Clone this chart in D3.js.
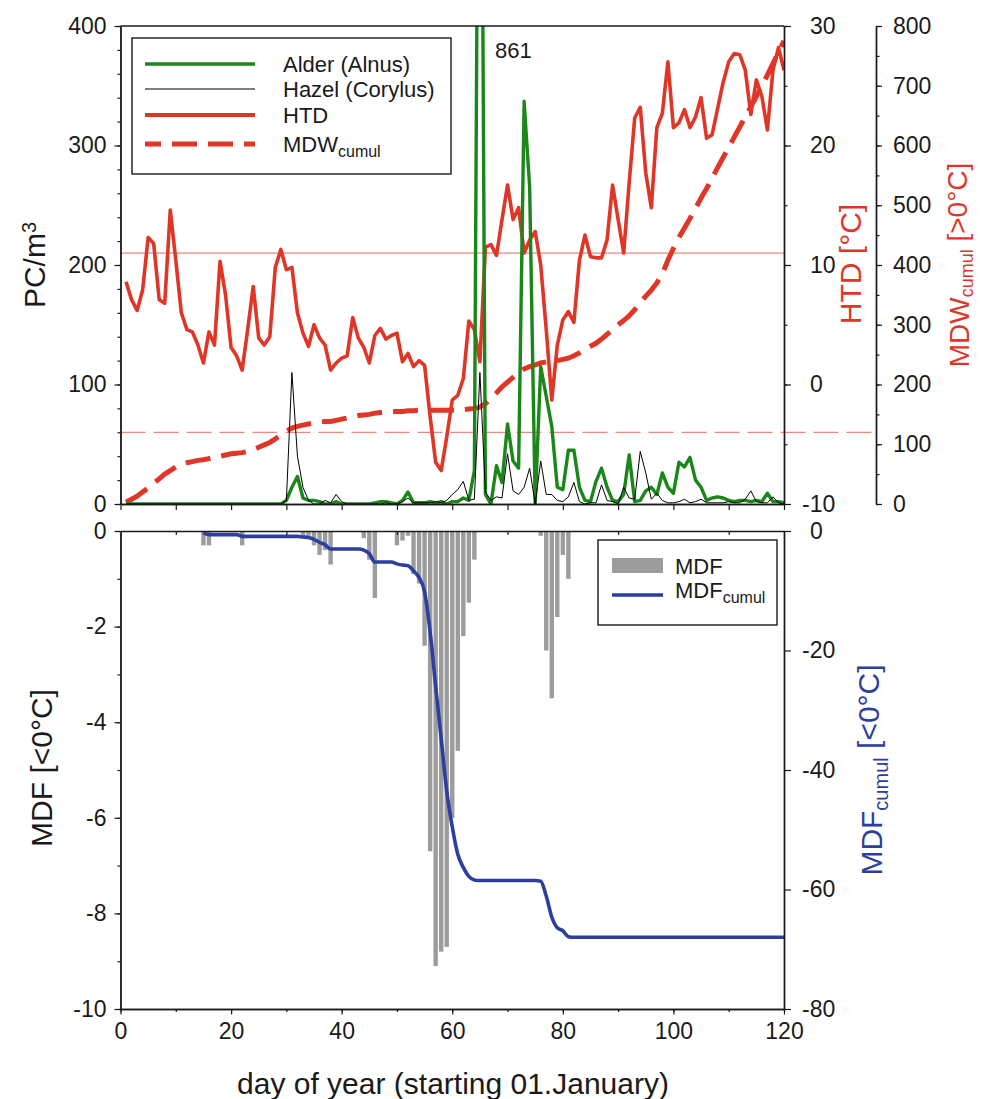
<!DOCTYPE html>
<html>
<head>
<meta charset="utf-8">
<script src="https://cdn.jsdelivr.net/npm/d3@7"></script>
<style>
body { margin: 0; background: #fff; }
svg { display: block; font-family: "Liberation Sans", Arial, sans-serif; }
</style>
</head>
<body>
<div id="chart"></div>
<script>
// ---- data ----
const days = d3.range(1, 121);

const alder = [
  0,0,0,0,0,0,0,0,0,0, 0,0,0,0,0,0,0,0,0,0, 0,0,0,0,0,0,0,0,0,3,
  14,23,5,3,3,2,0,0,2,0, 0,0,0,0,0,1,2,2,1,0, 3,10,1,1,1,2,1,2,0,2,
  2,5,3,28,861,8,0,32,18,67, 36,30,337,265,0,115,90,65,14,12, 45,45,14,3,2,19,30,14,3,2,
  8,41,2,3,11,14,8,26,14,9, 35,31,39,20,14,3,5,6,5,3, 2,3,3,2,3,2,9,2,2,1
];

const hazel = [
  0,0,0,0,0,0,0,0,0,0, 0,0,0,0,0,0,0,0,0,0, 0,0,0,0,0,0,0,0,0,3,
  110,40,14,3,0,0,3,1,8,2, 0,0,0,0,0,0,0,1,0,0, 2,5,1,1,1,1,2,1,3,8,
  12,19,3,4,110,10,3,6,5,42, 11,8,14,30,0,36,8,8,3,2, 6,18,2,0,1,1,16,3,2,0,
  14,5,4,44,26,4,9,3,1,1, 2,4,1,2,4,1,1,1,1,2, 1,1,4,11,2,1,1,6,1,0
];

const htd = [
  8.6,7.1,6.2,7.9,12.3,11.8,7.1,6.8,14.6,10.4,
  6.0,4.6,4.4,3.3,1.8,4.4,3.3,10.3,7.5,3.1,
  2.4,1.2,4.6,8.2,3.9,3.3,4.0,9.8,11.3,9.6,
  9.8,6.0,4.3,3.2,5.0,3.9,3.3,1.2,1.8,2.2,
  2.4,5.6,3.9,3.1,1.8,4.1,4.7,3.8,4.1,4.3,
  1.9,2.6,1.5,2.0,1.6,-2.7,-6.5,-7.2,-4.4,-1.3,
  -0.9,0.5,5.3,4.6,1.9,11.5,11.7,10.8,13.8,16.7,
  13.8,14.8,11.0,12.1,12.8,10.0,4.6,-1.3,3.3,5.4,
  6.1,5.2,10.4,12.5,10.7,10.6,10.6,12.1,16.7,13.8,
  11.0,16.9,22.3,23.2,17.7,14.8,21.5,22.7,27.0,21.5,
  21.9,23.0,21.5,22.4,24.0,20.6,20.9,23.1,25.3,27.0,
  27.7,27.6,26.3,22.6,25.5,24.1,21.3,26.3,28.2,26.3
];

const mdwCumul = [
  3,8,13,20,27,35,42,50,56,62, 66,69,71,73,74,76,78,80,82,84,
  85,86,88,91,95,99,103,109,116,122, 127,130,132,134,136,137,138,138,140,142,
  144,146,148,149,150,152,153,154,154,155, 155,156,156,157,157,157,157,157,157,157,
  157,158,159,160,162,168,176,186,196,204, 212,220,226,230,233,236,238,239,240,242,
  244,248,253,259,264,269,276,284,292,300, 307,315,325,337,348,358,370,385,408,428,
  446,462,478,495,512,528,545,563,580,597, 614,631,648,665,682,700,718,737,757,775
];

const mdfDays = [15,16,22,33,34,35,36,37,38,44,45,46,50,51,52,53,54,55,56,57,58,59,60,61,62,63,64,76,77,78,79,80,81];
const mdf = [-0.3,-0.3,-0.3,-0.1,-0.1,-0.3,-0.5,-0.4,-0.7,-0.15,-0.6,-1.4,-0.3,-0.2,-0.1,-0.9,-1.1,-2.4,
  -6.7,-9.1,-8.8,-8.7,-6.0,-4.6,-2.2,-1.5,-0.6,-0.1,-2.5,-3.5,-1.8,-0.5,-1.0];

const mdfCumulDays = d3.range(15, 121);
const mdfCumul = [
  -0.3,-0.6,-0.6,-0.6,-0.6,-0.6,-0.6,-0.9,-0.9,-0.9, -0.9,-0.9,-0.9,-0.9,-0.9,-0.9,-0.9,-0.9,-1.0,-1.1,
  -1.4,-1.9,-2.3,-3.0,-3.0,-3.0,-3.0,-3.0,-3.0,-3.2, -3.8,-5.2,-5.2,-5.2,-5.2,-5.5,-5.7,-5.8,-6.7,-7.8,
  -10.2,-16.9,-26.0,-34.8,-43.5,-49.5,-54.1,-56.3,-57.8,-58.4, -58.5,-58.5,-58.5,-58.5,-58.5,-58.5,-58.5,-58.5,-58.5,-58.5,
  -58.5,-58.6,-61.1,-64.6,-66.4,-66.9,-67.9,-68.0,-68.0,-68.0, -68.0,-68.0,-68.0,-68.0,-68.0,-68.0,-68.0,-68.0,-68.0,-68.0,
  -68.0,-68.0,-68.0,-68.0,-68.0,-68.0,-68.0,-68.0,-68.0,-68.0, -68.0,-68.0,-68.0,-68.0,-68.0,-68.0,-68.0,-68.0,-68.0,-68.0,
  -68.0,-68.0,-68.0,-68.0,-68.0,-68.0
];

const alderPeakLabel = "861";
const htdRef = 11;   // thin solid reference line
const mdwRef = 120;  // thin dashed reference line

// ---- layout ----
const width = 982, height = 1099;
const green = "#1b871b", red = "#e03628", blue = "#2c3e9e", grey = "#9c9c9c", ink = "#1a1a1a";
const plain = d => String(d);   // hyphen minus, like the original

const svg = d3.select("#chart").append("svg")
  .attr("width", width).attr("height", height);

const x = d3.scaleLinear().domain([0, 120]).range([120.5, 784]);
const top1 = 26, bot1 = 504, top2 = 531, bot2 = 1009;

const yPC = d3.scaleLinear().domain([0, 400]).range([bot1, top1]);
const yHTD = d3.scaleLinear().domain([-10, 30]).range([bot1, top1]);
const yMDW = d3.scaleLinear().domain([0, 800]).range([bot1, top1]);
const yMDF = d3.scaleLinear().domain([-10, 0]).range([bot2, top2]);
const yCum = d3.scaleLinear().domain([-80, 0]).range([bot2, top2]);

svg.append("clipPath").attr("id", "clip1").append("rect")
  .attr("x", x(0)).attr("y", top1).attr("width", x(120) - x(0)).attr("height", bot1 - top1);

// helper: axis with major + minor ticks
function drawAxis(g, axisFn, scale, major, minor, bigSize, smallSize, fmt) {
  g.append("g").call(axisFn(scale).tickValues(minor).tickSize(smallSize).tickFormat("").tickSizeOuter(0));
  g.append("g").call(axisFn(scale).tickValues(major).tickSize(bigSize).tickFormat(fmt || "").tickSizeOuter(0).tickPadding(8));
  g.selectAll(".domain").attr("stroke", ink).attr("stroke-width", 1.4);
  g.selectAll(".tick line").attr("stroke", ink).attr("stroke-width", 1.2);
  g.selectAll(".tick text").attr("font-size", 23).attr("fill", ink).attr("font-family", "Liberation Sans, Arial, sans-serif");
}

// ---- top panel ----
const p1 = svg.append("g");

// reference lines
p1.append("line").attr("x1", x(0)).attr("x2", x(120))
  .attr("y1", yHTD(htdRef)).attr("y2", yHTD(htdRef))
  .attr("stroke", red).attr("stroke-opacity", 0.75).attr("stroke-width", 1);
p1.append("line").attr("x1", x(0)).attr("x2", 876)
  .attr("y1", yMDW(mdwRef)).attr("y2", yMDW(mdwRef))
  .attr("stroke", red).attr("stroke-opacity", 0.75).attr("stroke-width", 1)
  .attr("stroke-dasharray", "25,8");

const plot1 = p1.append("g").attr("clip-path", "url(#clip1)");

plot1.append("path").datum(days)
  .attr("fill", "none").attr("stroke", red).attr("stroke-width", 5)
  .attr("stroke-dasharray", "25,11")
  .attr("d", d3.line().x(d => x(d)).y((d, i) => yMDW(mdwCumul[i])));

plot1.append("path").datum(days)
  .attr("fill", "none").attr("stroke", red).attr("stroke-width", 3.6).attr("stroke-linejoin", "round")
  .attr("d", d3.line().x(d => x(d)).y((d, i) => yHTD(htd[i])));

plot1.append("path").datum(days)
  .attr("fill", "none").attr("stroke", green).attr("stroke-width", 3.4).attr("stroke-linejoin", "round")
  .attr("d", d3.line().x(d => x(d)).y((d, i) => yPC(alder[i])));

plot1.append("path").datum(days)
  .attr("fill", "none").attr("stroke", "#000").attr("stroke-width", 1)
  .attr("d", d3.line().x(d => x(d)).y((d, i) => yPC(hazel[i])));

// frame + axes
p1.append("line").attr("x1", x(0)).attr("x2", x(120)).attr("y1", top1).attr("y2", top1)
  .attr("stroke", ink).attr("stroke-width", 1.4);

drawAxis(p1.append("g").attr("transform", `translate(${x(0)},0)`), d3.axisLeft, yPC,
  d3.range(0, 401, 100), d3.range(0, 401, 20), 6, 3, plain);
drawAxis(p1.append("g").attr("transform", `translate(0,${bot1})`), d3.axisBottom, x,
  [], d3.range(0, 121, 10), 6, 6);

const ax1r = p1.append("g").attr("transform", `translate(${x(120)},0)`);
drawAxis(ax1r, d3.axisRight, yHTD, d3.range(-10, 31, 10), d3.range(-10, 31, 5), 7, 3.5, plain);
ax1r.selectAll(".tick text").attr("x", d => d < 0 ? 18 : 26).attr("text-anchor", "start");

const ax1m = p1.append("g").attr("transform", "translate(876,0)");
drawAxis(ax1m, d3.axisRight, yMDW, d3.range(0, 801, 100), d3.range(0, 801, 50), 6, 3.5, plain);
ax1m.selectAll(".tick text").attr("x", 17).attr("text-anchor", "start");

// peak annotation
p1.append("text").attr("x", 495).attr("y", 58).attr("font-size", 22).attr("fill", ink)
  .text(alderPeakLabel);

// legend (top)
const lg1 = p1.append("g");
lg1.append("rect").attr("x", 132).attr("y", 38).attr("width", 319).attr("height", 136)
  .attr("fill", "#fff").attr("stroke", ink).attr("stroke-width", 1.4);
const leg1 = [
  { name: "Alder (Alnus)", color: green, w: 3.4, dash: null, y: 64 },
  { name: "Hazel (Corylus)", color: "#000", w: 1, dash: null, y: 89 },
  { name: "HTD", color: red, w: 4, dash: null, y: 115 },
  { name: "MDW", sub: "cumul", color: red, w: 5, dash: "16,11,25,11,25,11", y: 144 }
];
leg1.forEach(e => {
  lg1.append("line").attr("x1", 145).attr("x2", 255).attr("y1", e.y).attr("y2", e.y)
    .attr("stroke", e.color).attr("stroke-width", e.w).attr("stroke-dasharray", e.dash);
  const t = lg1.append("text").attr("x", 283).attr("y", e.y).attr("dy", "0.35em")
    .attr("font-size", 22).attr("fill", ink).text(e.name);
  if (e.sub) t.append("tspan").attr("dy", "0.3em").attr("font-size", 16).text(e.sub);
});

// ---- bottom panel ----
const p2 = svg.append("g");

p2.append("g").attr("fill", grey).selectAll("rect")
  .data(mdfDays)
  .join("rect")
  .attr("x", d => x(d) - 2.2)
  .attr("width", 4.4)
  .attr("y", yMDF(0))
  .attr("height", (d, i) => yMDF(mdf[i]) - yMDF(0));

p2.append("path").datum(mdfCumulDays)
  .attr("fill", "none").attr("stroke", blue).attr("stroke-width", 3.6)
  .attr("d", d3.line().curve(d3.curveMonotoneX).x(d => x(d)).y((d, i) => yCum(mdfCumul[i])));

// frame + axes
const topBorder = p2.append("g").attr("transform", `translate(0,${top2})`);
topBorder.call(d3.axisBottom(x).tickValues(d3.range(10, 120, 20)).tickSize(4).tickFormat("").tickSizeOuter(0));
topBorder.selectAll(".domain").attr("stroke", ink).attr("stroke-width", 1.4);
topBorder.selectAll(".tick line").attr("stroke", ink).attr("stroke-width", 1.2);

drawAxis(p2.append("g").attr("transform", `translate(${x(0)},0)`), d3.axisLeft, yMDF,
  d3.range(-10, 1, 2), d3.range(-10, 1, 1), 6, 3, plain);
drawAxis(p2.append("g").attr("transform", `translate(0,${bot2})`), d3.axisBottom, x,
  d3.range(0, 121, 20), d3.range(0, 121, 10), 5.5, 3, plain);

const ax2r = p2.append("g").attr("transform", `translate(${x(120)},0)`);
drawAxis(ax2r, d3.axisRight, yCum, d3.range(-80, 1, 20), [], 7, 0, plain);
ax2r.selectAll(".tick text").attr("x", d => d < 0 ? 18 : 26).attr("text-anchor", "start");

// legend (bottom)
const lg2 = p2.append("g");
lg2.append("rect").attr("x", 598).attr("y", 540).attr("width", 179).attr("height", 85)
  .attr("fill", "#fff").attr("stroke", ink).attr("stroke-width", 1.4);
lg2.append("rect").attr("x", 612).attr("y", 558).attr("width", 51).attr("height", 15).attr("fill", grey);
lg2.append("line").attr("x1", 612).attr("x2", 663).attr("y1", 595).attr("y2", 595)
  .attr("stroke", blue).attr("stroke-width", 3.6);
lg2.append("text").attr("x", 675).attr("y", 566).attr("dy", "0.35em")
  .attr("font-size", 22).attr("fill", ink).text("MDF");
lg2.append("text").attr("x", 675).attr("y", 590).attr("dy", "0.35em")
  .attr("font-size", 22).attr("fill", ink).text("MDF")
  .append("tspan").attr("dy", "0.3em").attr("font-size", 16).text("cumul");

// ---- axis titles ----
function vTitle(xb, yc, color, size, parts) {
  const t = svg.append("text")
    .attr("transform", `translate(${xb},${yc}) rotate(-90)`)
    .attr("text-anchor", "middle").attr("font-size", size).attr("fill", color);
  parts.forEach(p => {
    const s = t.append("tspan").text(p.t);
    if (p.dy) s.attr("dy", p.dy);
    if (p.fs) s.attr("font-size", p.fs);
  });
}
vTitle(45, 265, ink, 30, [{ t: "PC/m" }, { t: "3", dy: "-0.45em", fs: 20 }, { t: "", dy: "0.3em" }]);
vTitle(861, 264, red, 30, [{ t: "HTD [°C]" }]);
vTitle(969, 265, red, 28, [{ t: "MDW" }, { t: "cumul", dy: "0.22em", fs: 18 }, { t: " [>0°C]", dy: "-0.22em" }]);
vTitle(52, 768, ink, 30, [{ t: "MDF [<0°C]" }]);
vTitle(882, 770, blue, 30, [{ t: "MDF" }, { t: "cumul", dy: "0.3em", fs: 20 }, { t: " [<0°C]", dy: "-0.3em" }]);

svg.append("text").attr("x", 453).attr("y", 1094).attr("text-anchor", "middle")
  .attr("font-size", 30).attr("fill", ink).text("day of year (starting 01.January)");
</script>
</body>
</html>
